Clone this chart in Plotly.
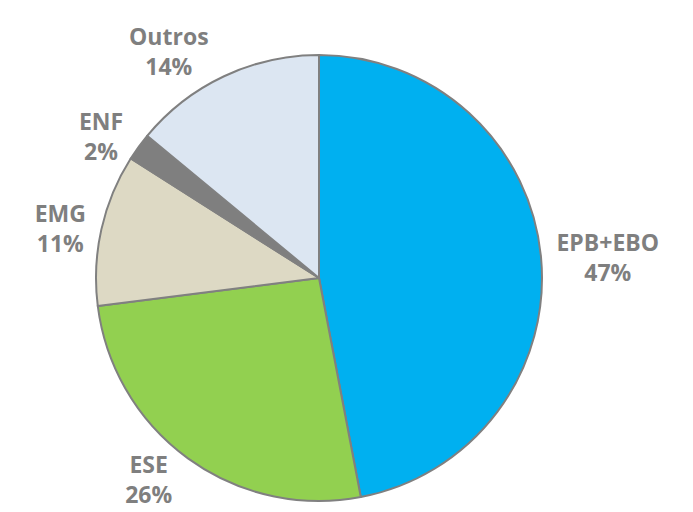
import plotly.graph_objects as go

labels = ["EPB+EBO", "ESE", "EMG", "ENF", "Outros"]
values = [47, 26, 11, 2, 14]
colors = ["#00B0F0", "#92D050", "#DDD9C4", "#7F7F7F", "#DCE6F2"]

fig = go.Figure(go.Pie(
    labels=labels,
    values=values,
    sort=False,
    direction="clockwise",
    rotation=0,
    marker=dict(colors=colors, line=dict(color="#808080", width=2)),
    texttemplate="%{label}<br>%{percent:.0%}",
    textposition="outside",
    textfont=dict(family="Open Sans", size=23, color="#7F7F7F", weight="bold"),
    showlegend=False,
    hoverinfo="label+percent",
))

fig.update_layout(
    width=693, height=512,
    margin=dict(l=88, r=159, t=47, b=19),
    paper_bgcolor="white",
    plot_bgcolor="white",
)

fig.write_html("out.html")
